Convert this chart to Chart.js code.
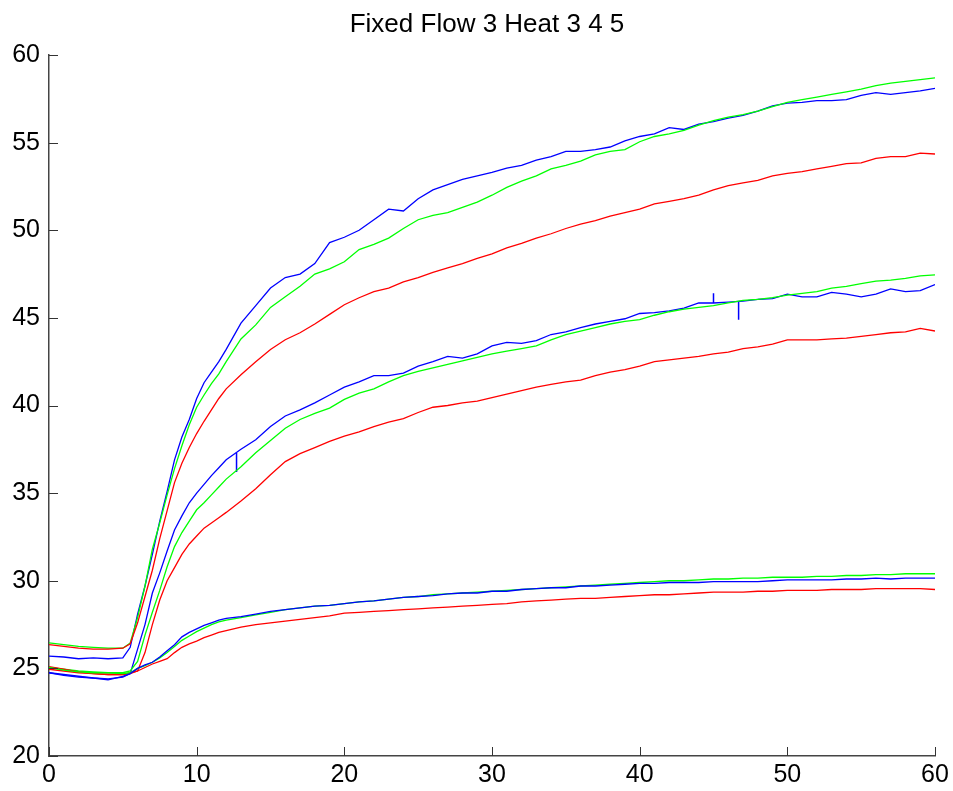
<!DOCTYPE html>
<html>
<head>
<meta charset="utf-8">
<title>Fixed Flow 3 Heat 3 4 5</title>
<script src="https://cdn.jsdelivr.net/npm/chart.js@4.4.1/dist/chart.umd.min.js"></script>
<style>
  html, body { margin: 0; padding: 0; background: #fff; }
  #plot { display: block; }
</style>
</head>
<body>
<canvas id="plot" width="953" height="791"></canvas>
<script>
// sample times (minutes)
const minutes = [0, 1, 2, 3, 4, 5, 5.5, 6, 6.5, 7, 7.5, 8, 8.5, 9, 9.5, 10, 10.5, 11, 11.5, 12,
  13, 14, 15, 16, 17, 18, 19, 20, 21, 22, 23, 24, 25, 26, 27, 28, 29, 30,
  31, 32, 33, 34, 35, 36, 37, 38, 39, 40, 41, 42, 43, 44, 45, 46, 47, 48, 49, 50,
  51, 52, 53, 54, 55, 56, 57, 58, 59, 60];

// heat 5
const topBlue = [25.7, 25.65, 25.55, 25.6, 25.55, 25.6,
  26.2, 28.1, 29.7, 31.5, 33.4, 35.1, 36.9, 38.2, 39.2, 40.4, 41.3, 41.9, 42.5, 43.2,
  44.7, 45.7, 46.7, 47.3, 47.5, 48.1, 49.3, 49.6,
  50.0, 50.6, 51.2, 51.1, 51.8, 52.3, 52.6, 52.9, 53.1, 53.3,
  53.55, 53.7, 54.0, 54.2, 54.5, 54.5, 54.6, 54.75, 55.1, 55.35,
  55.5, 55.85, 55.75, 56.05, 56.2, 56.4, 56.55, 56.8, 57.1, 57.25,
  57.3, 57.4, 57.4, 57.45, 57.7, 57.85, 57.75, 57.85, 57.95, 58.1];
const topGreen = [26.45, 26.35, 26.25, 26.2, 26.15, 26.15,
  26.45, 27.9, 29.7, 31.8, 33.3, 34.9, 36.4, 37.7, 38.9, 39.9, 40.6, 41.25, 41.8, 42.5,
  43.8, 44.6, 45.6, 46.2, 46.8, 47.5, 47.8, 48.2,
  48.9, 49.2, 49.55, 50.1, 50.6, 50.85, 51.0, 51.3, 51.6, 52.0,
  52.45, 52.8, 53.1, 53.5, 53.7, 53.95, 54.3, 54.5, 54.6, 55.05,
  55.35, 55.5, 55.7, 56.0, 56.25, 56.45, 56.6, 56.8, 57.05, 57.3,
  57.45, 57.6, 57.75, 57.9, 58.05, 58.25, 58.4, 58.5, 58.6, 58.7];
const topRed = [26.35, 26.25, 26.15, 26.1, 26.1, 26.15,
  26.4, 27.6, 29.1, 30.6, 32.4, 34.0, 35.6, 36.7, 37.6, 38.4, 39.1, 39.75, 40.4, 40.95,
  41.75, 42.5, 43.2, 43.75, 44.15, 44.65, 45.2, 45.75,
  46.15, 46.5, 46.7, 47.05, 47.3, 47.6, 47.85, 48.1, 48.4, 48.65,
  49.0, 49.25, 49.55, 49.8, 50.1, 50.35, 50.55, 50.8, 51.0, 51.2,
  51.5, 51.65, 51.8, 52.0, 52.3, 52.55, 52.7, 52.85, 53.1, 53.25,
  53.35, 53.5, 53.65, 53.8, 53.85, 54.1, 54.2, 54.2, 54.4, 54.35];

// heat 4
const midBlue = [24.75, 24.65, 24.55, 24.45, 24.4, 24.5,
  24.7, 26.1, 27.5, 29.3, 30.45, 31.7, 32.9, 33.7, 34.45, 35.0, 35.5, 36.0, 36.45, 36.9,
  37.5, 38.05, 38.8, 39.4, 39.75, 40.15, 40.6, 41.05,
  41.35, 41.7, 41.7, 41.85, 42.25, 42.5, 42.8, 42.7, 42.95, 43.4,
  43.6, 43.55, 43.7, 44.05, 44.2, 44.45, 44.65, 44.8, 44.95, 45.25,
  45.3, 45.4, 45.55, 45.85, 45.85, 45.9, 45.95, 46.05, 46.1, 46.35,
  46.2, 46.2, 46.45, 46.35, 46.2, 46.35, 46.65, 46.5, 46.55, 46.9];
const midGreen = [25.05, 24.95, 24.85, 24.8, 24.75, 24.75,
  24.85, 25.4, 26.9, 28.2, 29.45, 30.8, 31.95, 32.75, 33.4, 34.05, 34.45, 34.9, 35.35, 35.8,
  36.5, 37.3, 38.0, 38.7, 39.2, 39.55, 39.85, 40.35,
  40.7, 40.95, 41.35, 41.7, 41.95, 42.15, 42.35, 42.55, 42.75, 42.95,
  43.1, 43.25, 43.4, 43.75, 44.05, 44.25, 44.45, 44.65, 44.8, 44.9,
  45.15, 45.35, 45.5, 45.6, 45.7, 45.85, 46.0, 46.05, 46.15, 46.3,
  46.4, 46.5, 46.7, 46.8, 46.95, 47.1, 47.15, 47.25, 47.4, 47.45];
const midRed = [24.95, 24.85, 24.75, 24.7, 24.65, 24.65,
  24.75, 24.85, 25.9, 27.5, 28.9, 30.0, 30.75, 31.5, 32.1, 32.55, 33.0, 33.3, 33.6, 33.9,
  34.55, 35.25, 36.05, 36.8, 37.25, 37.6, 37.95, 38.25,
  38.5, 38.8, 39.05, 39.25, 39.6, 39.9, 40.0, 40.15, 40.25, 40.45,
  40.65, 40.85, 41.05, 41.2, 41.35, 41.45, 41.7, 41.9, 42.05, 42.25,
  42.5, 42.6, 42.7, 42.8, 42.95, 43.05, 43.25, 43.35, 43.5, 43.75,
  43.75, 43.75, 43.8, 43.85, 43.95, 44.05, 44.15, 44.2, 44.4, 44.25];

// heat 3
const botBlue = [24.75, 24.6, 24.5, 24.45, 24.35, 24.55,
  24.7, 25.0, 25.2, 25.35, 25.65, 26.0, 26.35, 26.8, 27.05, 27.25, 27.45, 27.6, 27.75, 27.85,
  27.95, 28.1, 28.25, 28.35, 28.45, 28.55, 28.6, 28.7,
  28.8, 28.85, 28.95, 29.05, 29.1, 29.15, 29.25, 29.3, 29.3, 29.4,
  29.4, 29.5, 29.55, 29.6, 29.6, 29.7, 29.7, 29.75, 29.8, 29.85,
  29.85, 29.9, 29.9, 29.9, 29.95, 29.95, 29.95, 29.95, 30.0, 30.05,
  30.05, 30.05, 30.05, 30.1, 30.1, 30.15, 30.1, 30.15, 30.15, 30.15];
const botGreen = [25.05, 24.9, 24.8, 24.75, 24.75, 24.7,
  24.75, 25.0, 25.15, 25.35, 25.6, 25.9, 26.25, 26.6, 26.85, 27.1, 27.3, 27.5, 27.65, 27.75,
  27.9, 28.05, 28.2, 28.35, 28.45, 28.55, 28.6, 28.7,
  28.8, 28.85, 28.95, 29.05, 29.1, 29.2, 29.25, 29.3, 29.35, 29.4,
  29.45, 29.5, 29.55, 29.6, 29.65, 29.7, 29.75, 29.8, 29.85, 29.9,
  29.95, 30.0, 30.0, 30.05, 30.1, 30.1, 30.15, 30.15, 30.2, 30.2,
  30.2, 30.25, 30.25, 30.3, 30.3, 30.35, 30.35, 30.4, 30.4, 30.4];
const botRed = [25.1, 24.95, 24.8, 24.7, 24.65, 24.65,
  24.7, 24.85, 25.05, 25.25, 25.4, 25.55, 25.9, 26.2, 26.4, 26.55, 26.75, 26.9, 27.05, 27.15,
  27.35, 27.5, 27.6, 27.7, 27.8, 27.9, 28.0, 28.15,
  28.2, 28.25, 28.3, 28.35, 28.4, 28.45, 28.5, 28.55, 28.6, 28.65,
  28.7, 28.8, 28.85, 28.9, 28.95, 29.0, 29.0, 29.05, 29.1, 29.15,
  29.2, 29.2, 29.25, 29.3, 29.35, 29.35, 29.35, 29.4, 29.4, 29.45,
  29.45, 29.45, 29.5, 29.5, 29.5, 29.55, 29.55, 29.55, 29.55, 29.5];

// sensor glitches on the heat 4 blue trace: time, level before, spike tip
const glitchTime = [12.7, 45.0, 46.7];
const glitchBase = [37.3, 45.85, 45.9];
const glitchTip = [36.2, 46.4, 44.9];

const xTicks = [0, 10, 20, 30, 40, 50, 60];
const yTicks = [20, 25, 30, 35, 40, 45, 50, 55, 60];

const TITLE = 'Fixed Flow 3 Heat 3 4 5';
const BLUE = '#0000ff', GREEN = '#00ff00', RED = '#ff0000';
const FONT = "'Liberation Sans', Arial, sans-serif";

const traces = [
  ['heat 3 blue', botBlue, BLUE], ['heat 3 green', botGreen, GREEN], ['heat 3 red', botRed, RED],
  ['heat 4 red', midRed, RED], ['heat 4 green', midGreen, GREEN], ['heat 4 blue', midBlue, BLUE],
  ['heat 5 red', topRed, RED], ['heat 5 green', topGreen, GREEN], ['heat 5 blue', topBlue, BLUE]
];

const datasets = traces.map(([label, vals, color]) => ({
  label,
  data: minutes.map((t, i) => ({ x: t, y: vals[i] })),
  borderColor: color,
  borderWidth: 1.3,
  pointRadius: 0,
  tension: 0,
  fill: false
}));

const glitchPts = [];
glitchTime.forEach((t, i) => {
  glitchPts.push({ x: t, y: glitchBase[i] }, { x: t, y: glitchTip[i] }, { x: t, y: null });
});
datasets.push({
  label: 'glitches',
  data: glitchPts,
  borderColor: BLUE,
  borderWidth: 1.5,
  pointRadius: 0,
  spanGaps: false
});

// MATLAB-style tick marks pointing into the plot, plus the title centred over the axes
const axesDecor = {
  id: 'axesDecor',
  afterDraw(chart) {
    const { ctx, chartArea } = chart;
    const { x, y } = chart.scales;
    ctx.save();
    ctx.strokeStyle = '#333';
    ctx.lineWidth = 1;
    xTicks.forEach(v => {
      const px = Math.round(x.getPixelForValue(v)) + 0.5;
      ctx.beginPath();
      ctx.moveTo(px, chartArea.bottom);
      ctx.lineTo(px, chartArea.bottom - 9);
      ctx.stroke();
    });
    yTicks.forEach(v => {
      const py = Math.round(y.getPixelForValue(v)) + 0.5;
      ctx.beginPath();
      ctx.moveTo(chartArea.left, py);
      ctx.lineTo(chartArea.left + 9, py);
      ctx.stroke();
    });
    ctx.fillStyle = '#000';
    ctx.font = '26px ' + FONT;
    ctx.textAlign = 'center';
    ctx.textBaseline = 'alphabetic';
    ctx.fillText(TITLE, (chartArea.left + chartArea.right) / 2 - 5, 32);
    ctx.restore();
  }
};

const tickFont = { family: FONT, size: 25 };

new Chart(document.getElementById('plot').getContext('2d'), {
  type: 'line',
  data: { datasets },
  options: {
    responsive: false,
    animation: false,
    devicePixelRatio: 1,
    layout: { padding: { left: 0, right: 18, top: 55, bottom: 0 } },
    plugins: {
      legend: { display: false },
      tooltip: { enabled: false },
      title: { display: false }
    },
    scales: {
      x: {
        type: 'linear',
        min: 0,
        max: 60,
        afterBuildTicks: s => { s.ticks = xTicks.map(v => ({ value: v })); },
        afterFit: s => { s.height = 35; },
        ticks: { color: '#000', font: tickFont, padding: 4, maxRotation: 0 },
        grid: { drawOnChartArea: false, drawTicks: false },
        border: { display: true, color: '#444', width: 1.5 }
      },
      y: {
        min: 20,
        max: 60,
        afterBuildTicks: s => { s.ticks = yTicks.map(v => ({ value: v })); },
        afterFit: s => { s.width = 49; },
        ticks: { color: '#000', font: tickFont, padding: 9 },
        grid: { drawOnChartArea: false, drawTicks: false },
        border: { display: true, color: '#444', width: 1.5 }
      }
    }
  },
  plugins: [axesDecor]
});
</script>
</body>
</html>
